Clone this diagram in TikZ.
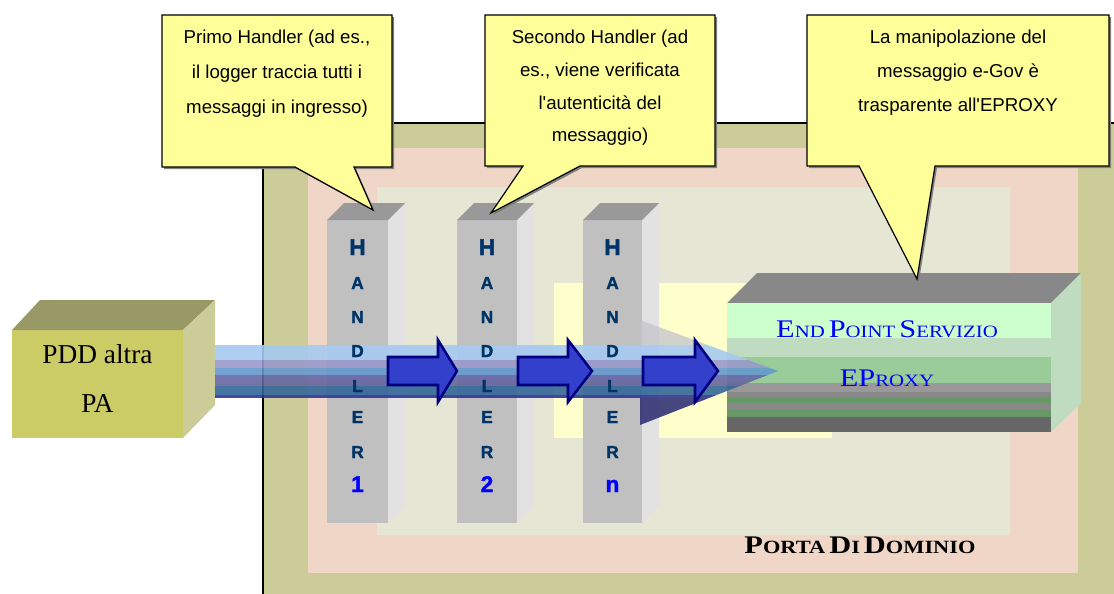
\documentclass[tikz,border=0pt]{standalone}
\usepackage{fontspec}
\usepackage{graphicx}
\setmainfont{Liberation Serif}
\newfontfamily\lsans{Liberation Sans}
\newfontfamily\heavysans{Liberation Sans}[BoldFeatures={FakeBold=1.6}]
\definecolor{cOlive}{HTML}{CCCC99}
\definecolor{cPink}{HTML}{F0D6C6}
\definecolor{cBeige}{HTML}{E6E6D4}
\definecolor{cLYellow}{HTML}{FFFFCC}
\definecolor{cCall}{HTML}{FFFF99}
\definecolor{cColFront}{HTML}{C0C0C0}
\definecolor{cColSide}{HTML}{E2E2E2}
\definecolor{cColTop}{HTML}{999999}
\definecolor{cLetter}{HTML}{003366}
\definecolor{cNum}{HTML}{0000FF}
\definecolor{cPddFront}{HTML}{CCCC66}
\definecolor{cPddTop}{HTML}{999966}
\definecolor{cPddSide}{HTML}{CCCC99}
\definecolor{cEpTop}{HTML}{888888}
\definecolor{cEpSide}{HTML}{C0DCC0}
\definecolor{cEpA}{HTML}{CCFFCC}
\definecolor{cEpB}{HTML}{C0DCC0}
\definecolor{cEpC}{HTML}{99CC99}
\definecolor{cEpD}{HTML}{999999}
\definecolor{cEpE}{HTML}{888888}
\definecolor{cEpF}{HTML}{669966}
\definecolor{cEpG}{HTML}{666666}
\definecolor{cBandA}{HTML}{A6CAF0}
\definecolor{cBandB}{HTML}{9999CC}
\definecolor{cBandC}{HTML}{6699CC}
\definecolor{cBandD}{HTML}{6666AA}
\definecolor{cBandE}{HTML}{666699}
\definecolor{cBandF}{HTML}{336699}
\definecolor{cBandG}{HTML}{333399}
\definecolor{cHeadHi}{HTML}{C4C4CC}
\definecolor{cHeadLo}{HTML}{333377}
\definecolor{cArrFill}{HTML}{3340CC}
\definecolor{cArrLine}{HTML}{000080}
\newcommand{\capbig}[1]{{\fontsize{19pt}{19pt}\selectfont #1}}
\newcommand{\capsml}[1]{{\fontsize{13pt}{13pt}\selectfont #1}}
\newcommand{\capsmlb}[1]{{\fontsize{14pt}{14pt}\selectfont #1}}
\newcommand{\calloutshape}[1]{%
  \fill[callshadow, shift={(2,2)}] #1;
  \path[callout] #1;}
\begin{document}
\begin{tikzpicture}[x=0.75pt,y=-0.75pt,
  callout/.style={fill=cCall, draw=black, line width=0.9pt, line join=miter},
  callshadow/.style={fill=black!50},
  calltext/.style={font=\lsans\fontsize{14pt}{14pt}\selectfont, anchor=base, inner sep=0pt},
  hletter/.style={font=\heavysans\bfseries\fontsize{13pt}{13pt}\selectfont, text=cLetter, inner sep=0pt, anchor=base},
  hbig/.style={font=\heavysans\bfseries\fontsize{17pt}{17pt}\selectfont, text=cLetter, inner sep=0pt, anchor=base},
  hnum/.style={hbig, text=cNum},
  pddtext/.style={font=\fontsize{20.5pt}{20.5pt}\selectfont, inner sep=0pt, anchor=base},
  eptext/.style={text=cNum, inner sep=0pt, anchor=base},
  blockarrow/.style={fill=cArrFill, draw=cArrLine, line width=1.9pt, line join=miter},
  bandstyle/.style={opacity=.9}
]
\useasboundingbox (0,0) rectangle (1114,593);
\clip (0,0) rectangle (1114,593);
\fill[white] (0,0) rectangle (1114,593);
% Porta di Dominio frames
\fill[cOlive] (263,123) rectangle (1130,610);
\draw[black, line width=1.2pt] (263,610) -- (263,123) -- (1130,123);
\fill[cPink] (308,148) rectangle (1078,573);
\fill[cBeige] (377,187) rectangle (1010,535);
\fill[cLYellow] (554,283) rectangle (832,438);
% handler columns
\foreach \xa/\xb in {327/388, 457/517, 583/642} {
  \fill[cColFront] (\xa,220) rectangle (\xb,523);
  \fill[cColSide] (\xb,220) -- (\xb+17,203) -- (\xb+17,507) -- (\xb,523) -- cycle;
  \fill[cColTop] (\xa,220) -- (\xa+17,203) -- (\xb+17,203) -- (\xb,220) -- cycle;
}
% PDD box
\fill[cPddFront] (12,330) rectangle (183,438);
\fill[cPddTop] (12,330) -- (40,300) -- (215,300) -- (183,330) -- cycle;
\fill[cPddSide] (183,330) -- (215,300) -- (215,405) -- (183,438) -- cycle;
\node[pddtext] (pdd1) at (97.5,363) {PDD altra};
\node[pddtext] (pdd2) at (97.5,412) {PA};
% End point box
\fill[cEpTop] (727,303) -- (757,273) -- (1081,273) -- (1051,303) -- cycle;
\fill[cEpSide] (1051,303) -- (1081,273) -- (1081,403) -- (1051,432) -- cycle;
\fill[cEpA] (727,303) rectangle (1051,338);
\fill[cEpB] (727,338) rectangle (1051,357);
\fill[cEpC] (727,357) rectangle (1051,383);
\fill[cEpD] (727,383) rectangle (1051,392);
\fill[cEpE] (727,392) rectangle (1051,397);
\fill[cEpF] (727,397) rectangle (1051,403);
\fill[cEpE] (727,403) rectangle (1051,410);
\fill[cEpF] (727,410) rectangle (1051,417);
\fill[cEpG] (727,417) rectangle (1051,432);
% main flow arrow
\begin{scope}
\clip (215,345) -- (640,345) -- (640,320) -- (778,371) -- (640,425) -- (640,398) -- (215,398) -- cycle;
\fill[cHeadHi, opacity=.75] (640,320) rectangle (780,345);
\fill[cHeadLo, opacity=.9] (640,398) rectangle (780,425);
\fill[cBandA, bandstyle] (215,345) rectangle (780,360);
\fill[cBandB, bandstyle] (215,360) rectangle (780,368);
\fill[cBandC, bandstyle] (215,368) rectangle (780,375);
\fill[cBandD, bandstyle] (215,375) rectangle (780,381);
\fill[cBandE, bandstyle] (215,381) rectangle (780,386);
\fill[cBandF, bandstyle] (215,386) rectangle (780,395);
\fill[cBandG, bandstyle] (215,395) rectangle (780,398);
\end{scope}
% block arrows
\foreach \xa/\xb/\xt in {388/438/457, 518/568/592, 643/695/718} {
  \path[blockarrow] (\xa,357) -- (\xb,357) -- (\xb,340) -- (\xt,371) -- (\xb,402) -- (\xb,385) -- (\xa,385) -- cycle;
}
% handler letters
\foreach \cx/\n/\num in {357.5/1/1, 487/2/2, 612.5/3/n} {
  \node[hbig] (h\n-H) at (\cx,255) {H};
  \foreach \ch/\cy [count=\i] in {A/289, N/323, D/357, L/392, E/423, R/458}
    \node[hletter] (h\n-l\i) at (\cx,\cy) {\ch};
  \node[hnum] (h\n-num) at (\cx,492) {\num};
}
% end point text
\node[eptext] (ep1) at (887,337) {\scalebox{1.2}[1]{\capbig{E}\capsml{ND} \capbig{P}\capsml{OINT} \capbig{S}\capsml{ERVIZIO}}};
\node[eptext] (ep2) at (887,386) {\scalebox{1.2}[1]{\capbig{EP}\capsml{ROXY}}};
% porta di dominio
\node[inner sep=0pt, anchor=base, font=\bfseries] (pdd) at (860,553) {\scalebox{1.2}[1]{\capbig{P}\capsmlb{ORTA} \capbig{D}\capsmlb{I} \capbig{D}\capsmlb{OMINIO}}};
% callouts
\calloutshape{(162,15) -- (392,15) -- (392,167) -- (354,167) -- (373,210) -- (295,167) -- (162,167) -- cycle}
\calloutshape{(485,15) -- (715,15) -- (715,166) -- (580,166) -- (491,213) -- (523,166) -- (485,166) -- cycle}
\calloutshape{(807,15) -- (1109,15) -- (1109,166) -- (935,166) -- (917,279) -- (859,166) -- (807,166) -- cycle}
\node[calltext] (c1a) at (277,43) {Primo Handler (ad es.,};
\node[calltext] (c1b) at (277,78) {il logger traccia tutti i};
\node[calltext] (c1c) at (277,113) {messaggi in ingresso)};
\node[calltext] (c2a) at (600,43) {Secondo Handler (ad};
\node[calltext] (c2b) at (600,76) {es., viene verificata};
\node[calltext] (c2c) at (600,109) {l'autenticità del};
\node[calltext] (c2d) at (600,141) {messaggio)};
\node[calltext] (c3a) at (958,43) {La manipolazione del};
\node[calltext] (c3b) at (958,77) {messaggio e-Gov è};
\node[calltext] (c3c) at (958,111) {trasparente all'EPROXY};
\end{tikzpicture}
\end{document}
